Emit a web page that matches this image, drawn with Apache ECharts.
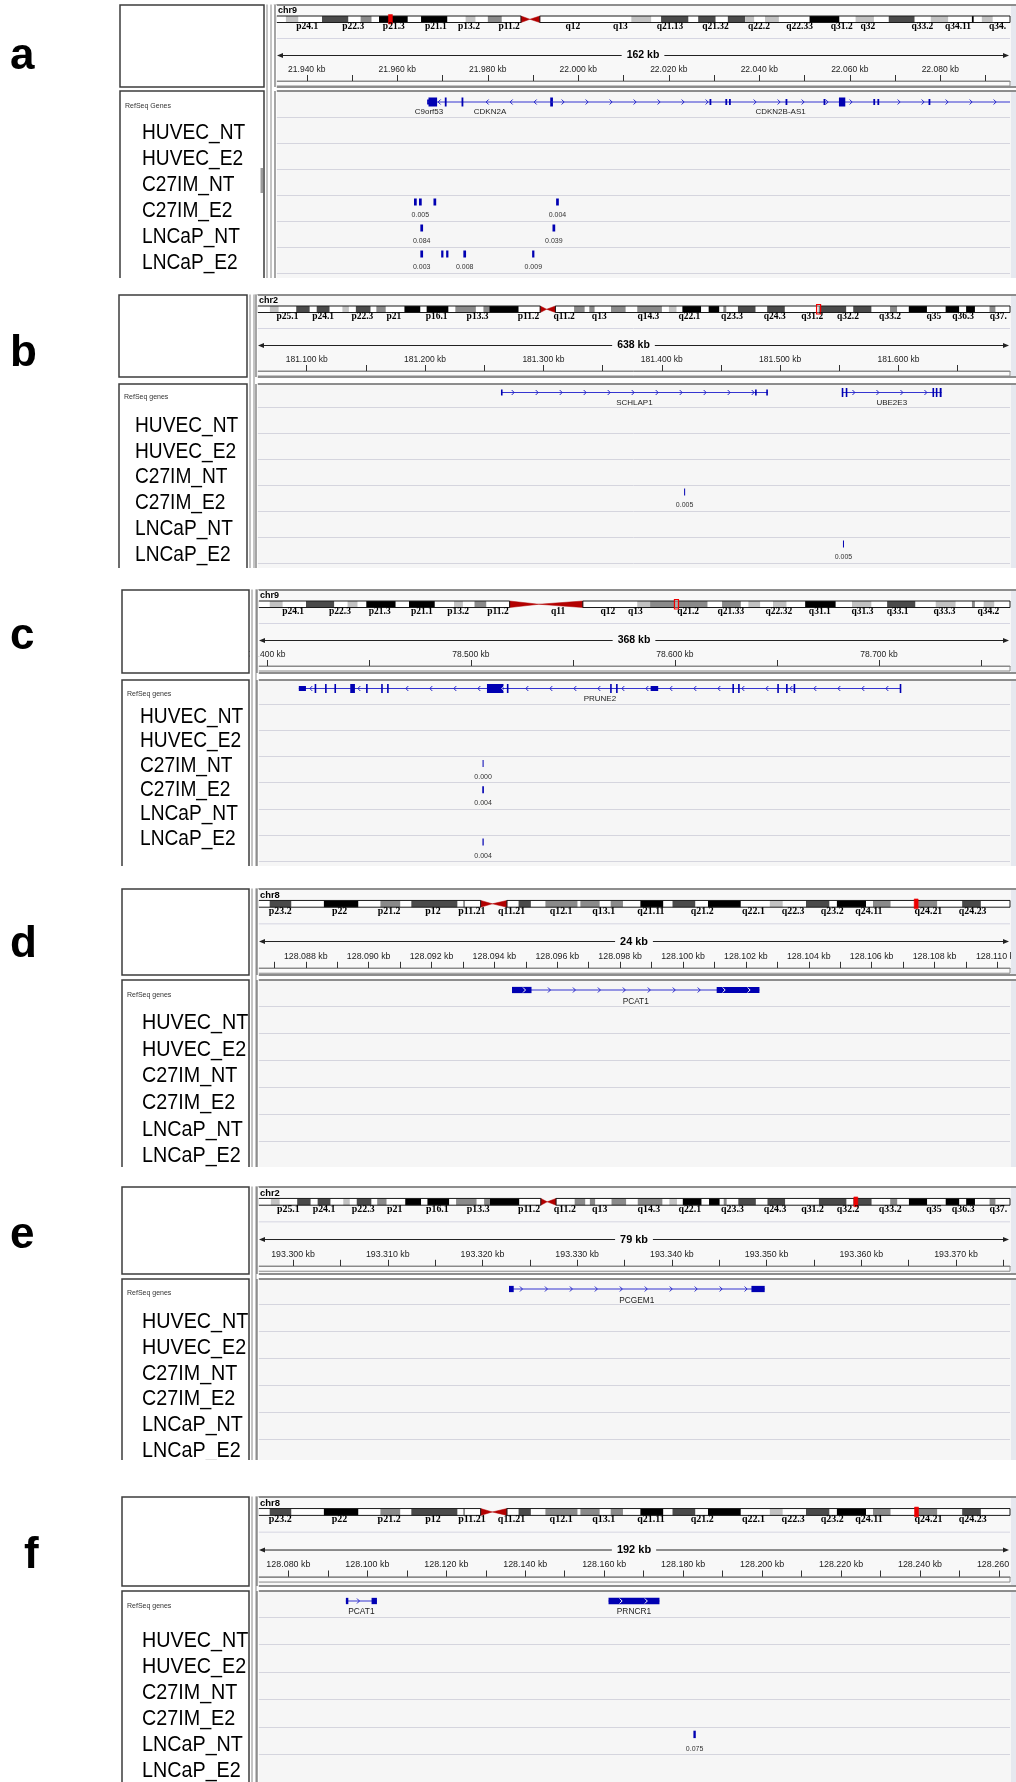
<!DOCTYPE html>
<html><head><meta charset="utf-8">
<script src="https://cdn.jsdelivr.net/npm/echarts@6.0.0/dist/echarts.min.js"></script>
<style>html,body{margin:0;padding:0;background:#fff;}#chart{width:1016px;height:1782px;}</style>
</head><body><div id="chart"></div>
<script>
// ================= DATA =================
const samples = ['HUVEC_NT','HUVEC_E2','C27IM_NT','C27IM_E2','LNCaP_NT','LNCaP_E2'];
const panelLetters = ['a','b','c','d','e','f'];
const panelChrom = ['chr9','chr2','chr9','chr8','chr2','chr8'];
const chromLengthMb = {chr2:243.199, chr8:146.364, chr9:141.213};
const viewStartKb = [21933.2, 181058.0, 78395.7, 128086.48, 193296.3, 128072.3];
const viewEndKb   = [22095.4, 181694.2, 78764.2, 128110.40, 193375.7, 128262.8];
const spanLabels  = ['162 kb','638 kb','368 kb','24 kb','79 kb','192 kb'];
const majorTicksKb = [
  [21940,21960,21980,22000,22020,22040,22060,22080],
  [181100,181200,181300,181400,181500,181600],
  [78400,78500,78600,78700],
  [128088,128090,128092,128094,128096,128098,128100,128102,128104,128106,128108,128110],
  [193300,193310,193320,193330,193340,193350,193360,193370],
  [128080,128100,128120,128140,128160,128180,128200,128220,128240,128260]
];
const minorTicksKb = [
  [21950,21970,21990,22010,22030,22050,22070,22090],
  [181150,181250,181350,181450,181550,181650],
  [78450,78550,78650,78750],
  [128087,128089,128091,128093,128095,128097,128099,128101,128103,128105,128107,128109],
  [193305,193315,193325,193335,193345,193355,193365,193375],
  [128090,128110,128130,128150,128170,128190,128210,128230,128250]
];
// cytobands, in per-mille of chromosome length: [start, end, stain]
const chr9BandsV1 = [[0,13.5,'n'],[13.5,30.3,'g25'],[30.3,62.7,'n'],[62.7,98.4,'g75'],[98.4,115.3,'n'],[115.3,130.1,'g50'],[130.1,140.3,'n'],[140.3,179.4,'g100'],[179.4,197.6,'n'],[197.6,233.3,'g100'],[233.3,258.3,'n'],[258.3,271.7,'g25'],[271.7,288.6,'n'],[288.6,307.5,'g50'],[307.5,333.8,'n'],[333.8,345.9,'acen'],[345.9,359.4,'acen'],[359.4,484.1,'n'],[484.1,511.1,'g25'],[511.1,524.6,'n'],[524.6,561.7,'g75'],[561.7,575.2,'n'],[575.2,598.8,'g75'],[598.8,615.6,'n'],[615.6,639.2,'g75'],[639.2,651.4,'g25'],[651.4,666.2,'n'],[666.2,685.1,'g25'],[685.1,726.9,'n'],[726.9,767.4,'g100'],[767.4,789.6,'n'],[789.6,814.6,'g25'],[814.6,834.8,'n'],[834.8,869.9,'g75'],[869.9,892.1,'n'],[892.1,915.7,'g25'],[915.7,948.1,'n'],[948.1,950.5,'g100'],[950.5,961.6,'n'],[961.6,976.4,'g25'],[976.4,1000,'n']];
const chr9LabelsV1 = [[42.5,'p24.1'],[105.2,'p22.3'],[160.5,'p21.3'],[217.8,'p21.1'],[263,'p13.2'],[317.6,'p11.2'],[404.6,'q12'],[469.3,'q13'],[536.8,'q21.13'],[598.8,'q21.32'],[658.1,'q22.2'],[713.4,'q22.33'],[770.7,'q31.2'],[806.5,'q32'],[880.6,'q33.2'],[929.2,'q34.11'],[983,'q34.']];
const chr9BandsV2 = [[0,15.6,'n'],[15.6,32.7,'g25'],[32.7,63.8,'n'],[63.8,101.2,'g75'],[101.2,119.1,'n'],[119.1,132.3,'g25'],[132.3,144,'n'],[144,182.9,'g100'],[182.9,200.8,'n'],[200.8,235,'g100'],[235,260.7,'n'],[260.7,272.4,'g25'],[272.4,287.9,'n'],[287.9,303.5,'g50'],[303.5,334.6,'n'],[334.6,373.5,'acen'],[373.5,431.9,'acen'],[431.9,504.3,'n'],[504.3,521.4,'g25'],[521.4,597.7,'g50'],[597.7,617.1,'n'],[617.1,642,'g50'],[642,652.1,'n'],[652.1,667.7,'g25'],[667.7,684.8,'n'],[684.8,702.7,'g25'],[702.7,727.6,'n'],[727.6,768.1,'g100'],[768.1,789.9,'n'],[789.9,815.6,'g25'],[815.6,836.6,'n'],[836.6,874,'g75'],[874,901.2,'n'],[901.2,927.6,'g25'],[927.6,949.4,'n'],[949.4,953.3,'g50'],[953.3,965,'n'],[965,979,'g25'],[979,1000,'n']];
const chr9LabelsV2 = [[46.7,'p24.1'],[109,'p22.3'],[161.9,'p21.3'],[217.9,'p21.1'],[266.1,'p13.2'],[319.1,'p11.2'],[399.2,'q11'],[465.4,'q12'],[501.9,'q13'],[572,'q21.2'],[628.8,'q21.33'],[692.6,'q22.32'],[747.1,'q31.1'],[803.9,'q31.3'],[850.6,'q33.1'],[912.8,'q33.3'],[971.2,'q34.2']];
const chr2Bands = [[0,17.1,'n'],[17.1,28.7,'g25'],[28.7,52.1,'n'],[52.1,69.9,'g75'],[69.9,79.3,'n'],[79.3,96.3,'g75'],[96.3,113.4,'n'],[113.4,122,'g25'],[122,131.3,'n'],[131.3,150.7,'g75'],[150.7,158.5,'n'],[158.5,170.9,'g50'],[170.9,195.8,'n'],[195.8,216.8,'g100'],[216.8,225.3,'n'],[225.3,254.1,'g100'],[254.1,263.4,'n'],[263.4,290.6,'g50'],[290.6,300.7,'n'],[300.7,308.5,'g50'],[308.5,347.3,'g100'],[347.3,376.1,'n'],[376.1,384.6,'acen'],[384.6,396.3,'acen'],[396.3,421.1,'n'],[421.1,435.1,'g50'],[435.1,441.3,'n'],[441.3,448.3,'g50'],[448.3,470.1,'n'],[470.1,489.5,'g50'],[489.5,505,'n'],[505,537.7,'g50'],[537.7,547,'n'],[547,557.1,'g25'],[557.1,564.9,'n'],[564.9,589.7,'g100'],[589.7,599.8,'n'],[599.8,613.8,'g100'],[613.8,619.3,'n'],[619.3,623.2,'g50'],[623.2,638.7,'n'],[638.7,662,'g75'],[662,677.5,'n'],[677.5,700.9,'g75'],[700.9,745.9,'n'],[745.9,782.4,'g75'],[782.4,791.8,'n'],[791.8,815.9,'g75'],[815.9,840.7,'n'],[840.7,850,'g50'],[850,865.6,'n'],[865.6,889.7,'g100'],[889.7,914.5,'n'],[914.5,932.4,'g100'],[932.4,941.7,'n'],[941.7,953.4,'g100'],[953.4,972.8,'n'],[972.8,980.6,'g50'],[980.6,1000,'n']];
const chr2Labels = [[40.4,'p25.1'],[87.8,'p24.1'],[139.9,'p22.3'],[181.8,'p21'],[238.5,'p16.1'],[292.9,'p13.3'],[360.5,'p11.2'],[407.9,'q11.2'],[454.5,'q13'],[519.8,'q14.3'],[574.2,'q22.1'],[630.9,'q23.3'],[687.6,'q24.3'],[737.4,'q31.2'],[784.8,'q32.2'],[840.7,'q33.2'],[899,'q35'],[937.8,'q36.3'],[984.5,'q37.']];
const chr8Bands = [[0,15.5,'n'],[15.5,44.2,'g75'],[44.2,87.6,'n'],[87.6,133.3,'g100'],[133.3,162.8,'n'],[162.8,189.1,'g50'],[189.1,203.9,'n'],[203.9,265.1,'g75'],[265.1,272.9,'n'],[272.9,275.2,'g50'],[275.2,296.1,'n'],[296.1,311.6,'acen'],[311.6,331,'acen'],[331,346.5,'n'],[346.5,362.8,'g75'],[362.8,382.2,'n'],[382.2,424.8,'g50'],[424.8,428.7,'n'],[428.7,454.3,'g50'],[454.3,469,'n'],[469,485.3,'g50'],[485.3,508.5,'n'],[508.5,538.8,'g100'],[538.8,551.2,'n'],[551.2,581.4,'g75'],[581.4,598.4,'n'],[598.4,641.9,'g100'],[641.9,680.6,'n'],[680.6,697.7,'g25'],[697.7,728.7,'n'],[728.7,759.7,'g75'],[759.7,769.8,'n'],[769.8,808.5,'g100'],[808.5,817.8,'n'],[817.8,841.1,'g50'],[841.1,874.4,'n'],[874.4,903.1,'g50'],[903.1,936.4,'n'],[936.4,961.2,'g75'],[961.2,1000,'n']];
const chr8Labels = [[29.5,'p23.2'],[108.5,'p22'],[174.4,'p21.2'],[232.6,'p12'],[284.5,'p11.21'],[337.2,'q11.21'],[403.1,'q12.1'],[459.7,'q13.1'],[522.5,'q21.11'],[590.7,'q21.2'],[658.9,'q22.1'],[711.6,'q22.3'],[763.6,'q23.2'],[812.4,'q24.11'],[891.5,'q24.21'],[950.4,'q24.23']];
const panelBands  = [chr9BandsV1, chr2Bands, chr9BandsV2, chr8Bands, chr2Bands, chr8Bands];
const panelBandLabels = [chr9LabelsV1, chr2Labels, chr9LabelsV2, chr8Labels, chr2Labels, chr8Labels];
// genes: [panel, name, startKb, endKb, strand]
const genes = [
  [0,'C9orf53',21966.6,21967.4,'-'],
  [0,'CDKN2A',21966.6,21994.4,'-'],
  [0,'CDKN2B-AS1',21994.0,22121.0,'+'],
  [1,'SCHLAP1',181264.3,181489.4,'+'],
  [1,'UBE2E3',181552.2,181636.4,'+'],
  [2,'PRUNE2',78415.7,78710.8,'-'],
  [3,'PCAT1',128094.56,128102.43,'+'],
  [4,'PCGEM1',193322.8,193349.8,'+'],
  [5,'PCAT1',128094.56,128102.43,'+'],
  [5,'PRNCR1',128161.1,128174.0,'+']
];
// exons: [geneIndex, startKb, endKb, kind]
const exons = [
  [0,21966.6,21967.4,'utr'],
  [1,21966.9,21968.8,'cds'],[1,21970.5,21970.9,'cds'],[1,21974.2,21974.6,'cds'],[1,21993.8,21994.4,'cds'],
  [2,22029.0,22029.4,'nc'],[2,22032.5,22032.9,'nc'],[2,22033.3,22033.7,'nc'],[2,22045.8,22046.2,'nc'],[2,22054.2,22054.6,'nc'],[2,22057.6,22059.0,'cds'],[2,22065.2,22065.6,'nc'],[2,22066.1,22066.5,'nc'],[2,22077.4,22077.8,'nc'],
  [3,181264.3,181265.3,'nc'],[3,181479.2,181479.8,'nc'],[3,181488.5,181489.4,'nc'],
  [4,181552.2,181553.2,'cds'],[4,181555.6,181556.6,'cds'],[4,181629.0,181629.8,'cds'],[4,181631.8,181632.6,'cds'],[4,181634.8,181636.4,'cds'],
  [5,78415.7,78419.2,'utr'],[5,78423.6,78424.1,'cds'],[5,78428.7,78429.2,'cds'],[5,78433.3,78433.8,'cds'],[5,78440.9,78443.2,'cds'],[5,78448.8,78449.3,'cds'],[5,78456.2,78456.7,'cds'],[5,78459.1,78459.6,'cds'],[5,78507.9,78516.0,'cds'],[5,78517.8,78518.3,'cds'],[5,78568.4,78568.9,'cds'],[5,78571.3,78571.8,'cds'],[5,78588.1,78591.8,'utr'],[5,78628.3,78628.8,'cds'],[5,78631.1,78631.6,'cds'],[5,78650.3,78650.8,'cds'],[5,78654.6,78655.1,'cds'],[5,78658.3,78658.8,'cds'],[5,78710.3,78710.8,'cds'],
  [6,128094.56,128095.18,'nc'],[6,128101.07,128102.43,'nc'],
  [7,193322.8,193323.3,'nc'],[7,193348.4,193349.8,'nc'],
  [8,128094.56,128095.18,'nc'],[8,128101.07,128102.43,'nc'],
  [9,128161.1,128174.0,'nc']
];
// peaks: [panel, sampleIndex, startKb, endKb, scoreLabel]
const peaks = [
  [0,3,21963.7,21964.3,''],[0,3,21964.8,21965.4,'0.005'],[0,3,21968.0,21968.6,''],[0,3,21995.1,21995.7,'0.004'],
  [0,4,21965.1,21965.7,'0.084'],[0,4,21994.3,21994.9,'0.039'],
  [0,5,21965.1,21965.7,'0.003'],[0,5,21969.7,21970.2,''],[0,5,21970.8,21971.3,''],[0,5,21974.6,21975.2,'0.008'],[0,5,21989.8,21990.3,'0.009'],
  [1,3,181418.9,181419.7,'0.005'],[1,5,181553.1,181553.9,'0.005'],
  [2,2,78505.8,78506.2,'0.000'],[2,3,78505.6,78506.4,'0.004'],[2,5,78505.7,78506.3,'0.004'],
  [5,4,128182.6,128183.2,'0.075']
];

// ================= LAYOUT / STYLE =================
const layout = [
 {T:5,   H:82, s:1.00, nameL:120, nameR:264, dataL:276, dataR:1010, geneTop:92,   geneH:25, geneY:10,  geneLblY:20, rowH:26,   bottom:278,  labelX:142, labY0:133,  labDy:25.9, letterX:10, letterY:35,   hollow:false},
 {T:295, H:82, s:1.00, nameL:119, nameR:247, dataL:257, dataR:1010, geneTop:385,  geneH:22, geneY:7.5, geneLblY:18, rowH:26,   bottom:568,  labelX:135, labY0:426,  labDy:25.7, letterX:10, letterY:332,  hollow:true},
 {T:590, H:83, s:1.00, nameL:122, nameR:249, dataL:258, dataR:1010, geneTop:681,  geneH:23, geneY:7.5, geneLblY:18, rowH:26.2, bottom:866,  labelX:140, labY0:717,  labDy:24.3, letterX:10, letterY:615,  hollow:true},
 {T:889, H:86, s:1.04, nameL:122, nameR:249, dataL:258, dataR:1010, geneTop:981,  geneH:25, geneY:9,   geneLblY:21, rowH:27,   bottom:1167, labelX:142, labY0:1023, labDy:26.6, letterX:10, letterY:923,  hollow:false},
 {T:1187,H:87, s:1.04, nameL:122, nameR:249, dataL:258, dataR:1010, geneTop:1280, geneH:24, geneY:9,   geneLblY:21, rowH:27,   bottom:1460, labelX:142, labY0:1322, labDy:25.7, letterX:10, letterY:1214, hollow:false},
 {T:1497,H:89, s:1.05, nameL:122, nameR:249, dataL:258, dataR:1010, geneTop:1592, geneH:25, geneY:9,   geneLblY:20, rowH:27.5, bottom:1782, labelX:142, labY0:1641, labDy:25.9, letterX:24, letterY:1534, hollow:false}
];
const stainColor = {g25:'#c2c2c2', g50:'#8a8a8a', g75:'#4a4a4a', g100:'#000000'};
const BLUE = '#0000b2';
const SANS = "'Liberation Sans', Arial, sans-serif";

function kbLabel(v){ const r = Math.round(v); return Math.floor(r/1000)+'.'+String(r%1000).padStart(3,'0')+' kb'; }

const option = {animation:false, backgroundColor:'#ffffff', grid:[], xAxis:[], yAxis:[], series:[], graphic:{elements:[]}};
const G = option.graphic.elements;
function gRect(x,y,w,h,fill,stroke,lw,z){ G.push({type:'rect', silent:true, z:z, shape:{x:x,y:y,width:w,height:h}, style:{fill:fill, stroke:stroke||null, lineWidth:lw||0}}); }
function gLine(x1,y1,x2,y2,stroke,lw,z){ G.push({type:'line', silent:true, z:z, shape:{x1:x1,y1:y1,x2:x2,y2:y2}, style:{stroke:stroke, lineWidth:lw}}); }
function gText(x,y,t,font,fill,align,va,z,bg){ G.push({type:'text', silent:true, z:z, x:x, y:y, style:{text:t, font:font, fill:fill, align:align, verticalAlign:va, backgroundColor:bg||null, padding: bg?[1,5]:0}}); }
function gPoly(pts,fill,z){ G.push({type:'polygon', silent:true, z:z, shape:{points:pts}, style:{fill:fill}}); }

function addAxes(gi, xmin, xmax, ymin, ymax){
  option.xAxis.push({gridIndex:gi, type:'value', min:xmin, max:xmax, show:false});
  option.yAxis.push({gridIndex:gi, type:'value', min:ymin, max:ymax, show:false});
}

layout.forEach(function(L, p){
  const s = L.s, T = L.T, W = L.dataR - L.dataL;
  const ideoTop = T+11*s, ideoH = 6.5*s, bandLblY = T+21.5*s, sepY = T+33.5*s, spanY = T+50.5*s, axisY = T+76*s;
  const chrLen = chromLengthMb[panelChrom[p]];
  const bands = panelBands[p], blabels = panelBandLabels[p];
  const bot = L.bottom;

  // ---------- decorations ----------
  gText(L.letterX, L.letterY, panelLetters[p], "bold 44px 'Liberation Sans', Arial, sans-serif", '#000', 'left', 'alphabetic', 300);
  // header
  gRect(L.dataL-1.5, T, 1030-L.dataL, L.H, '#f8f8f8', '#6a6a6a', 1.5, -20);
  gRect(L.nameL, T, L.nameR-L.nameL, L.H, '#ffffff', '#3c3c3c', 1.5, 150);
  gText(L.dataL+2, T+6*s, panelChrom[p], "bold "+(9*s).toFixed(1)+"px "+SANS, '#000', 'left', 'middle', 10);
  gLine(L.dataL, sepY, L.dataR, sepY, '#d6d6e2', 1, -10);
  gLine(L.dataL+3, spanY, L.dataR-3, spanY, '#222', 1, -10);
  gPoly([[L.dataL+1,spanY],[L.dataL+7,spanY-2.5],[L.dataL+7,spanY+2.5]], '#222', -9);
  gPoly([[L.dataR-1,spanY],[L.dataR-7,spanY-2.5],[L.dataR-7,spanY+2.5]], '#222', -9);
  gText((L.dataL+L.dataR)/2, spanY, spanLabels[p], "bold "+(10.5*s).toFixed(1)+"px "+SANS, '#000', 'center', 'middle', -8, '#f8f8f8');
  gRect(L.dataL, axisY, W, 5*s, '#fbfbfb', '#8a8a8a', 1, -9);
  // track box
  const trackH = bot - L.geneTop + 4;
  gRect(L.dataL-1.5, L.geneTop-1, 1030-L.dataL, trackH, '#f6f6f6', '#6a6a6a', 1.5, -20);
  gRect(L.nameL, L.geneTop-1, L.nameR-L.nameL, trackH, '#ffffff', '#3c3c3c', 1.5, 150);
  gText(L.nameL+5, L.geneTop+L.geneH*0.55, p===0?'RefSeq Genes':'RefSeq genes', "7px "+SANS, '#333', 'left', 'middle', 151);
  if (p===0) gRect(L.nameR-3.5, 168, 2.5, 25, '#9a9a9a', null, 0, 151);
  // gap with double line between name panel and data panel (also clips spill-over text)
  gRect(L.nameR+0.8, T-0.5, L.dataL-L.nameR, bot-T+2, '#ffffff', null, 0, 149);
  gLine(L.nameR+3, T-0.5, L.nameR+3, bot+1, '#8a8a8a', 1, 152);
  gLine(L.nameR+7, T-0.5, L.nameR+7, bot+1, '#8a8a8a', 1, 152);
  gLine(L.dataL-1, T, L.dataL-1, T+L.H, '#6a6a6a', 1.2, 152);
  gLine(L.dataL-1, L.geneTop-1, L.dataL-1, bot+1, '#6a6a6a', 1.2, 152);
  // right scroll strip
  gRect(L.dataR+1, T+1, 1016-L.dataR, L.H-2, '#e6e8ef', null, 0, 151);
  gRect(L.dataR+1, L.geneTop, 1016-L.dataR, bot-L.geneTop+2, '#e6e8ef', null, 0, 151);
  // cut panel bottom
  if (p < layout.length-1) gRect(0, bot, 1016, layout[p+1].T - bot - 1.5, '#ffffff', null, 0, 250);

  // ---------- ideogram ----------
  let gi = option.grid.length;
  option.grid.push({left:L.dataL, top:ideoTop, width:W, height:ideoH, outerBoundsMode:'none'});
  addAxes(gi, 0, 1000, 0, 1);
  const firstAcen = bands.findIndex(b=>b[2]==='acen');
  let lastAcen = -1; bands.forEach((b,i)=>{ if (b[2]==='acen') lastAcen = i; });
  const arms = [[0, bands[firstAcen][0]], [bands[lastAcen][1], 1000]];
  function armRender(stroke){
    return function(params, api){
      const a = arms[params.dataIndex], cs = params.coordSys;
      const x0 = api.coord([a[0],0])[0], x1 = api.coord([a[1],0])[0];
      return {type:'rect', shape:{x:x0, y:cs.y, width:x1-x0, height:cs.height},
        style: stroke ? {fill:null, stroke:'#1a1a1a', lineWidth:1} : {fill:'#ffffff'}};
    };
  }
  option.series.push({type:'custom', xAxisIndex:gi, yAxisIndex:gi, z:1, silent:true, renderItem:armRender(false), data:arms.map(a=>[a[0],0,a[1]]), encode:{x:[0,2], y:1}});
  option.series.push({type:'custom', xAxisIndex:gi, yAxisIndex:gi, z:2, silent:true,
    renderItem:function(params, api){
      const b = bands[params.dataIndex], cs = params.coordSys;
      const x0 = api.coord([b[0],0])[0], x1 = api.coord([b[1],0])[0];
      const y0 = cs.y, y1 = cs.y+cs.height, ym = (y0+y1)/2;
      if (b[2]==='acen'){
        const pSide = params.dataIndex === firstAcen;
        const pts = pSide ? [[x0,y0],[x1,ym],[x0,y1]] : [[x1,y0],[x0,ym],[x1,y1]];
        return {type:'polygon', shape:{points:pts}, style:{fill:'#b30000', stroke:'#b30000', lineWidth:0.5}};
      }
      if (b[2]==='n') return {type:'group', children:[]};
      return {type:'rect', shape:{x:x0, y:y0, width:x1-x0, height:y1-y0}, style:{fill:stainColor[b[2]]}};
    },
    data:bands.map(b=>[b[0],0,b[1]]), encode:{x:[0,2], y:1}});
  option.series.push({type:'custom', xAxisIndex:gi, yAxisIndex:gi, z:3, silent:true, renderItem:armRender(true), data:arms.map(a=>[a[0],0,a[1]]), encode:{x:[0,2], y:1}});
  // current-view marker
  option.series.push({type:'custom', xAxisIndex:gi, yAxisIndex:gi, z:4, silent:true,
    renderItem:function(params, api){
      const cs = params.coordSys;
      let x0 = api.coord([api.value(0),0])[0], x1 = api.coord([api.value(2),0])[0];
      if (x1-x0 < 4){ const m=(x0+x1)/2; x0=m-2; x1=m+2; }
      return {type:'rect', shape:{x:x0, y:cs.y-1.5, width:x1-x0, height:cs.height+3},
        style: L.hollow ? {fill:'rgba(255,255,255,0.3)', stroke:'#ee0000', lineWidth:1.2} : {fill:'#ee0000', stroke:'#ee0000', lineWidth:0.5}};
    },
    data:[[viewStartKb[p]/chrLen, 0, viewEndKb[p]/chrLen]], encode:{x:[0,2], y:1}});
  // band labels
  option.series.push({type:'custom', xAxisIndex:gi, yAxisIndex:gi, z:4, silent:true,
    renderItem:function(params, api){
      const lb = blabels[params.dataIndex];
      const x = api.coord([lb[0],0])[0];
      return {type:'text', x:x, y:bandLblY, style:{text:lb[1], font:"bold "+(9.5*s).toFixed(1)+"px 'Liberation Serif', 'Times New Roman', serif", fill:'#000', align:'center', verticalAlign:'middle'}};
    },
    data:blabels.map(l=>[l[0],0]), encode:{x:0, y:1}});

  // ---------- ruler ----------
  gi = option.grid.length;
  option.grid.push({left:L.dataL, top:axisY-20*s, width:W, height:20*s, outerBoundsMode:'none'});
  option.xAxis.push({gridIndex:gi, type:'value', min:viewStartKb[p], max:viewEndKb[p], position:'bottom', z:5,
    axisLine:{show:true, lineStyle:{color:'#8a8a8a', width:1}},
    axisTick:{show:true, inside:true, length:6*s, customValues:majorTicksKb[p].concat(minorTicksKb[p]), lineStyle:{color:'#333', width:1}},
    axisLabel:{show:true, inside:true, margin:11.5*s, customValues:majorTicksKb[p], formatter:kbLabel, fontSize:8.5*s, fontFamily:SANS, color:'#222', verticalAlign:'middle', hideOverlap:false},
    splitLine:{show:false}, minorTick:{show:false}});
  option.yAxis.push({gridIndex:gi, type:'value', min:0, max:1, show:false});

  // ---------- gene track ----------
  gi = option.grid.length;
  option.grid.push({left:L.dataL, top:L.geneTop, width:W, height:L.geneH, outerBoundsMode:'none'});
  addAxes(gi, viewStartKb[p], viewEndKb[p], 0, 1);
  const pg = []; genes.forEach((g,i)=>{ if (g[0]===p) pg.push(i); });
  option.series.push({type:'custom', xAxisIndex:gi, yAxisIndex:gi, z:5, silent:true,
    renderItem:function(params, api){
      const idx = pg[params.dataIndex], g = genes[idx], cs = params.coordSys;
      const R0 = cs.x + cs.width, L0 = cs.x, yc = cs.y + L.geneY;
      const xs = api.coord([g[2],0.5])[0], xe = api.coord([g[3],0.5])[0];
      const a = Math.max(xs, L0), b = Math.min(xe, R0);
      const ch = [];
      ch.push({type:'line', shape:{x1:a, y1:yc, x2:b, y2:yc}, style:{stroke:'#3535d0', lineWidth:1}});
      const exs = [];
      exons.forEach(function(e){
        if (e[0]!==idx) return;
        let x0 = api.coord([e[1],0.5])[0], x1 = api.coord([e[2],0.5])[0];
        if (x1-x0 < 1.6){ const m=(x0+x1)/2; x0=m-0.8; x1=m+0.8; }
        x0 = Math.max(x0, L0); x1 = Math.min(x1, R0); if (x1<=x0) return;
        const h = (e[3]==='cds'?9:(e[3]==='utr'?5:6))*s;
        exs.push([x0,x1]);
        ch.push({type:'rect', shape:{x:x0, y:yc-h/2, width:x1-x0, height:h}, style:{fill:BLUE}});
      });
      const step = 24*s, dir = g[4]==='+'?1:-1;
      for (let x = a+step/2; x < b-3; x += step){
        const ex = exs.find(e=>x>=e[0]-1.5 && x<=e[1]+1.5);
        if (ex && ex[1]-ex[0] < 7) continue;
        ch.push({type:'polyline', shape:{points:[[x-1.5*dir,yc-2.5],[x+1*dir,yc],[x-1.5*dir,yc+2.5]]}, style:{stroke: ex?'#ffffff':'#2525c8', lineWidth:1, fill:null}});
      }
      ch.push({type:'text', x:(a+b)/2, y:cs.y+L.geneLblY, style:{text:g[1], font:(8*s).toFixed(1)+"px "+SANS, fill:'#222', align:'center', verticalAlign:'middle'}});
      return {type:'group', children:ch};
    },
    data:pg.map(i=>[genes[i][2],0.5,genes[i][3]]), encode:{x:[0,2], y:1}});

  // ---------- sample tracks ----------
  gi = option.grid.length;
  const rowsTop = L.geneTop + L.geneH;
  option.grid.push({left:L.dataL, top:rowsTop, width:W, height:6*L.rowH, outerBoundsMode:'none'});
  option.xAxis.push({gridIndex:gi, type:'value', min:viewStartKb[p], max:viewEndKb[p], show:false});
  option.yAxis.push({gridIndex:gi, type:'category', data:samples, inverse:true,
    axisLine:{show:false}, axisTick:{show:false}, axisLabel:{show:false},
    splitLine:{show:true, showMinLine:true, showMaxLine:true, lineStyle:{color:'#d5d5de', width:1}}});
  const pp = peaks.filter(d=>d[0]===p);
  if (pp.length) option.series.push({type:'custom', xAxisIndex:gi, yAxisIndex:gi, z:5, silent:true,
    renderItem:function(params, api){
      const d = pp[params.dataIndex];
      const x0 = api.coord([d[2], d[1]])[0], x1 = api.coord([d[3], d[1]])[0];
      const yc = api.coord([d[2], d[1]])[1];
      const top = yc - L.rowH/2, k = L.rowH/26;
      const w = Math.max(x1-x0, 1), xm = (x0+x1)/2;
      const ch = [{type:'rect', shape:{x:xm-w/2, y:top+3.5*k, width:w, height:7*k}, style:{fill:BLUE}}];
      if (d[4]) ch.push({type:'text', x:xm, y:top+20.5*k, style:{text:d[4], font:"7px "+SANS, fill:'#333', align:'center', verticalAlign:'middle'}});
      return {type:'group', children:ch};
    },
    data:pp.map(d=>[d[2], d[1], d[3]]), encode:{x:[0,2], y:1}});

  // ---------- sample names (name panel, own category scale) ----------
  gi = option.grid.length;
  option.grid.push({left:L.nameL, top:L.labY0 - L.labDy/2, width:L.nameR-L.nameL, height:6*L.labDy, outerBoundsMode:'none'});
  option.xAxis.push({gridIndex:gi, type:'value', min:0, max:1, show:false});
  option.yAxis.push({gridIndex:gi, type:'category', data:samples, inverse:true, show:false});
  const fs = 22*(p>=3?1.03:1);
  option.series.push({type:'custom', xAxisIndex:gi, yAxisIndex:gi, z:200, silent:true,
    renderItem:function(params, api){
      const y = api.coord([0, params.dataIndex])[1];
      return {type:'text', x:L.labelX, y:y, scaleX:0.87, style:{text:samples[params.dataIndex], font:fs.toFixed(1)+"px "+SANS, fill:'#000', align:'left', verticalAlign:'middle'}};
    },
    data:samples.map((n,i)=>[0,i]), encode:{x:0, y:1}});
});

const chart = echarts.init(document.getElementById('chart'), null, {renderer:'canvas', width:1016, height:1782});
chart.setOption(option);
</script></body></html>
